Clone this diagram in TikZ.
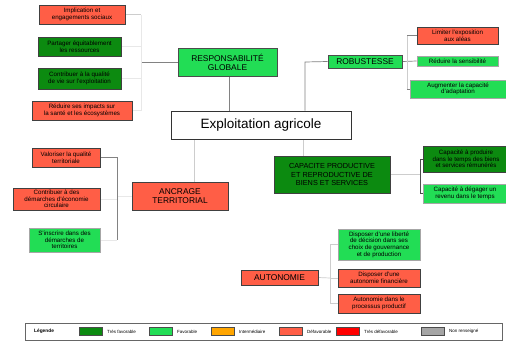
\documentclass[tikz,border=0pt]{standalone}
\usepackage{fontspec}
\setmainfont{Liberation Sans}
\usetikzlibrary{backgrounds}
\definecolor{dgreen}{RGB}{12,138,16}
\definecolor{lgreen}{RGB}{34,221,85}
\definecolor{tomatoc}{RGB}{255,94,70}
\definecolor{orangec}{RGB}{255,165,0}
\definecolor{redc}{RGB}{255,0,0}
\definecolor{greyc}{RGB}{165,165,165}
\definecolor{linkc}{RGB}{130,130,130}
\definecolor{faintc}{RGB}{205,205,205}
\definecolor{ghostc}{RGB}{232,232,232}
\tikzset{
  box/.style={draw=black!75, line width=0.7pt, rectangle, inner sep=0pt, align=center,
    font=\fontsize{6.2}{6.7}\selectfont},
  head/.style={box, font=\fontsize{8.4}{9.2}\selectfont},
  tfav/.style={fill=dgreen},
  fav/.style={fill=lgreen, draw=black!35},
  defav/.style={fill=tomatoc},
  link/.style={draw=linkc, line width=0.7pt},
  faint/.style={draw=faintc, line width=0.7pt},
  ghost/.style={draw=ghostc, line width=0.7pt},
  swatch/.style={draw=black!70, line width=0.6pt, minimum width=23, minimum height=8, inner sep=0pt},
  legtext/.style={anchor=west, inner sep=0pt, font=\fontsize{4.5}{5}\selectfont}
}
\begin{document}
\begin{tikzpicture}[x=1pt, y=-1pt]
\useasboundingbox (0,0) rectangle (506,343);

% central node
\node[box, fill=white, draw=black!80, line width=0.9pt, minimum width=180, minimum height=28,
  font=\fontsize{13.5}{15}\selectfont] (expl) at (261,125) {Exploitation agricole};

% main properties
\node[head, fav, draw=black!70, minimum width=99, minimum height=28] (resp) at (227.5,62) {RESPONSABILITÉ\\GLOBALE};
\node[head, fav, draw=black!70, minimum width=74, minimum height=13] (robust) at (365,61.5) {ROBUSTESSE};
\node[head, defav, minimum width=96, minimum height=28] (ancr) at (180,196) {ANCRAGE\\TERRITORIAL};
\node[head, tfav, minimum width=116, minimum height=37, font=\fontsize{7.3}{8.4}\selectfont] (capa) at (332,174.5) {CAPACITE PRODUCTIVE\\ET REPRODUCTIVE DE\\BIENS ET SERVICES};
\node[head, defav, minimum width=77, minimum height=15] (auto) at (279.5,277.5) {AUTONOMIE};

% responsabilité globale
\node[box, defav, minimum width=86, minimum height=19] (impl) at (82,14.5) {Implication et\\engagements sociaux};
\node[box, tfav, minimum width=83, minimum height=19] (part) at (79.5,46.5) {Partager équitablement\\les ressources};
\node[box, tfav, minimum width=83, minimum height=21] (qual) at (79.5,78.5) {Contribuer à la qualité\\de vie sur l'exploitation};
\node[box, defav, minimum width=100, minimum height=19] (impa) at (82,110.5) {Réduire ses impacts sur\\la santé et les écosystèmes};

% robustesse
\node[box, defav, minimum width=81, minimum height=17] (alea) at (457.5,35.5) {Limiter l'exposition\\aux aléas};
\node[box, fav, minimum width=81, minimum height=10] (sens) at (457.5,61) {Réduire la sensibilité};
\node[box, fav, minimum width=96, minimum height=18] (adap) at (458,89) {Augmenter la capacité\\d'adaptation};

% capacité productive
\node[box, tfav, minimum width=86, minimum height=26] (prod) at (466,159) {Capacité à produire\\dans le temps des biens\\et services rémunérés};
\node[box, fav, minimum width=84, minimum height=19] (reve) at (465,193.5) {Capacité à dégager un\\revenu dans le temps};

% ancrage territorial
\node[box, defav, minimum width=68, minimum height=19] (valo) at (66,157.5) {Valoriser la qualité\\territoriale};
\node[box, defav, minimum width=87, minimum height=22] (circ) at (56.5,199) {Contribuer à des\\démarches d'économie\\circulaire};
\node[box, fav, minimum width=71, minimum height=24] (terr) at (64.5,240) {S'inscrire dans des\\démarches de\\territoires};

% autonomie
\node[box, fav, minimum width=82, minimum height=31] (libe) at (379,244.5) {Disposer d'une liberté\\de décision dans ses\\choix de gouvernance\\et de production};
\node[box, defav, minimum width=82, minimum height=18] (fina) at (379,278) {Disposer d'une\\autonomie financière};
\node[box, defav, minimum width=82, minimum height=19] (proc) at (379,303.5) {Autonomie dans le\\processus productif};

% connectors: tree from the farm
\coordinate (bR) at (141,62);
\coordinate (bRob) at (305,62);
\coordinate (bRob2) at (407,62);
\coordinate (bCap) at (420,174.5);
\coordinate (bAnc) at (117,196);
\coordinate (bAut) at (330,278);

\begin{scope}[on background layer]
\fill[white] (0,0) rectangle (506,343);
\draw[link] (resp.south -| 229,0) -- (expl.north -| 229,0);
\draw[link] (robust.west) -- (bRob) -- (bRob |- expl.north);
\draw[faint] (expl.south -| 194,0) -- (ancr.north -| 194,0);
\draw[faint] (expl.south -| 303,0) -- (capa.north -| 303,0);

% responsabilité globale bracket
\draw[link] (resp.west) -- (bR);
\draw[ghost] (bR |- impl.east) -- (bR |- impa.east);
\draw[faint] (impl.east) -- (bR |- impl.east);
\draw[ghost] (part.east) -- (bR |- part.east);
\draw[ghost] (qual.east) -- (bR |- qual.east);
\draw[ghost] (impa.east) -- (bR |- impa.east);

% robustesse bracket
\draw[link] (robust.east) -- (sens.west);
\draw[faint] (bRob2 |- alea.west) -- (bRob2 |- adap.west);
\draw[link] (bRob2 |- alea.west) -- (alea.west);
\draw[link] (bRob2 |- adap.west) -- (adap.west);

% capacité bracket
\draw[faint] (capa.east) -- (bCap);
\draw[draw=black!70, line width=0.7pt] (prod.west) -- (bCap |- prod.west) -- (bCap |- reve.west) -- (reve.west);

% ancrage bracket
\draw[ghost] (ancr.west) -- (bAnc);
\draw[link] (valo.east) -- (bAnc |- valo.east) -- (bAnc |- terr.east);
\draw[ghost] (circ.east) -- (bAnc |- circ.east);
\draw[ghost] (terr.east) -- (bAnc |- terr.east);

% autonomie bracket
\draw[faint] (auto.east) -- (bAut);
\draw[faint] (bAut |- libe.west) -- (bAut |- proc.west);
\draw[faint] (bAut |- libe.west) -- (libe.west);
\draw[faint] (fina.west) -- (bAut |- fina.west);
\draw[faint] (bAut |- proc.west) -- (proc.west);
\end{scope}

% legend
\node[draw=black!60, line width=0.8pt, minimum width=477, minimum height=17, inner sep=0pt] (leg) at (263.5,331.5) {};
\node[legtext, font=\fontsize{4.8}{5}\selectfont\bfseries] (legt) at (34,331.5) {Légende};
\node[swatch, fill=dgreen] (s1) at (90.5,331.5) {};
\node[legtext] (t1) at (107,331.5) {Très favorable};
\node[swatch, fill=lgreen] (s2) at (160.5,331.5) {};
\node[legtext] (t2) at (177,331.5) {Favorable};
\node[swatch, fill=orangec] (s3) at (222.5,331.5) {};
\node[legtext] (t3) at (239,331.5) {Intermédiaire};
\node[swatch, fill=tomatoc] (s4) at (290.5,331.5) {};
\node[legtext] (t4) at (307,331.5) {Défavorable};
\node[swatch, fill=redc] (s5) at (347.5,331.5) {};
\node[legtext] (t5) at (364,331.5) {Très défavorable};
\node[swatch, fill=greyc] (s6) at (432.5,331.5) {};
\node[legtext] (t6) at (449,331.5) {Non renseigné};
\end{tikzpicture}
\end{document}
